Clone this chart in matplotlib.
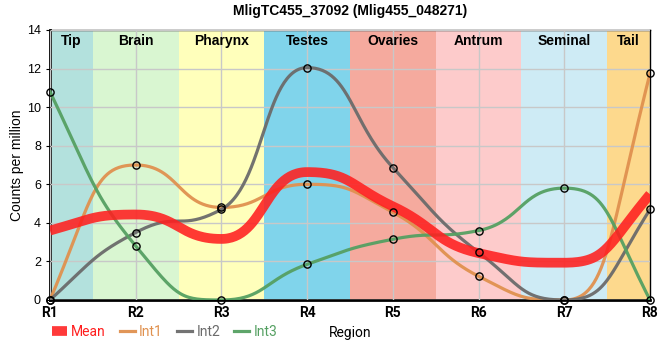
#!/usr/bin/env python

# Expression profile along the body regions (smoothed monotone curves)

import numpy as np
import matplotlib
matplotlib.use('Agg')
import matplotlib.pyplot as plt

# -------------
# Data
# -------------
positions = ['R1', 'R2', 'R3', 'R4', 'R5', 'R6', 'R7', 'R8']
int1 = [0.0, 7.0, 4.8, 6.0, 4.55, 1.23, 0.0, 11.75]
int2 = [0.0, 3.5, 4.7, 12.05, 6.87, 2.47, 0.0, 4.7]
int3 = [10.8, 2.8, 0.0, 1.85, 3.15, 3.6, 5.8, 0.0]

region_names = ['Tip', 'Brain', 'Pharynx', 'Testes', 'Ovaries', 'Antrum', 'Seminal', 'Tail']
region_edges = [0, 0.5, 1.5, 2.5, 3.5, 4.5, 5.5, 6.5, 7]
region_colors = ['#b3e1dd', '#d9f6d1', '#ffffbb', '#80d4eb', '#f5aa9e',
                 '#fdcbcb', '#ceebf5', '#fdd98d']

title = 'MligTC455_37092 (Mlig455_048271)'

series_names = ['Int1', 'Int2', 'Int3']
series_colors = ['#e0914f', '#6b6b6b', '#55a062']
mean_color = '#ff1f1f'


def monotone_slopes(x, y):
    # d3-style monotone (Steffen) tangents
    x = np.asarray(x, float)
    y = np.asarray(y, float)
    h = np.diff(x)
    s = np.diff(y) / h
    m = np.zeros(len(y))
    for i in range(1, len(y) - 1):
        p = (s[i - 1] * h[i] + s[i] * h[i - 1]) / (h[i - 1] + h[i])
        m[i] = (np.sign(s[i - 1]) + np.sign(s[i])) * min(abs(s[i - 1]), abs(s[i]), 0.5 * abs(p))
    m[0] = (3 * s[0] - m[1]) / 2
    m[-1] = (3 * s[-1] - m[-2]) / 2
    return m


def smooth_curve(x, y, c=0.5, n=60):
    x = np.asarray(x, float)
    y = np.asarray(y, float)
    m = monotone_slopes(x, y)
    t = np.linspace(0, 1, n)
    xs, ys = [], []
    for i in range(len(x) - 1):
        h = x[i + 1] - x[i]
        px = [x[i], x[i] + c * h, x[i + 1] - c * h, x[i + 1]]
        py = [y[i], y[i] + m[i] * c * h, y[i + 1] - m[i + 1] * c * h, y[i + 1]]
        b = [(1 - t) ** 3, 3 * t * (1 - t) ** 2, 3 * t ** 2 * (1 - t), t ** 3]
        xs.append(sum(bk * pk for bk, pk in zip(b, px)))
        ys.append(sum(bk * pk for bk, pk in zip(b, py)))
    return np.concatenate(xs), np.concatenate(ys)


x = np.arange(len(positions))
data = np.array([int1, int2, int3])
mean = data.mean(axis=0)

plt.rcParams['font.family'] = ['Liberation Sans', 'DejaVu Sans']

fig = plt.figure(figsize=(6.6, 3.6), dpi=100)
ax = fig.add_axes([50 / 660, 60 / 360, 600 / 660, 270 / 360])

# Region bands and labels
for j in range(len(region_names)):
    ax.axvspan(region_edges[j], region_edges[j + 1], color=region_colors[j], lw=0, zorder=0)
    ax.text(0.5 * (region_edges[j] + region_edges[j + 1]), 13.45, region_names[j],
            ha='center', va='center', fontsize=10, fontweight='bold', zorder=5)

ax.grid(True, color='#c8c8c8', lw=1, zorder=1)
ax.set_axisbelow(False)

# Individual series
for k in range(3):
    cx, cy = smooth_curve(x, data[k])
    ax.plot(cx, cy, color=series_colors[k], lw=2.3, alpha=0.95, zorder=3,
            label=series_names[k])
    ax.plot(x, data[k], 'o', ms=5.2, mfc='none', mec='black', mew=1, zorder=6,
            clip_on=False)

# Mean
cx, cy = smooth_curve(x, mean)
ax.plot(cx, cy, color=mean_color, lw=7, alpha=0.88, zorder=4, label='Mean',
        solid_capstyle='butt')

ax.set_xlim(0, 7)
ax.set_ylim(0, 14)
ax.set_xticks(x)
ax.set_xticklabels(positions, fontsize=10, fontweight='bold', family='Roboto')
ax.set_yticks(np.arange(0, 15, 2))
ax.tick_params(axis='y', labelsize=9, length=3)
ax.tick_params(axis='x', length=0, pad=4)

for side in ['left', 'bottom']:
    ax.spines[side].set_linewidth(2)
for side in ['top', 'right']:
    ax.spines[side].set_linewidth(1)

ax.set_ylabel('Counts per million', fontsize=10, labelpad=2)
ax.set_xlabel('Region', fontsize=10, labelpad=5, family='Roboto')
ax.set_title(title, fontsize=10, fontweight='bold', pad=11)

handles, labels = ax.get_legend_handles_labels()
order = [3, 0, 1, 2]
leg = ax.legend([handles[i] for i in order], [labels[i] for i in order],
                loc='upper left', bbox_to_anchor=(-0.018, -0.045), ncol=4, frameon=False,
                handlelength=1.1, handletextpad=0.3, columnspacing=1.0,
                labelcolor='linecolor', prop={'family': 'Roboto', 'size': 10})

plt.savefig('out.png', dpi=100, facecolor='w')
plt.close()
